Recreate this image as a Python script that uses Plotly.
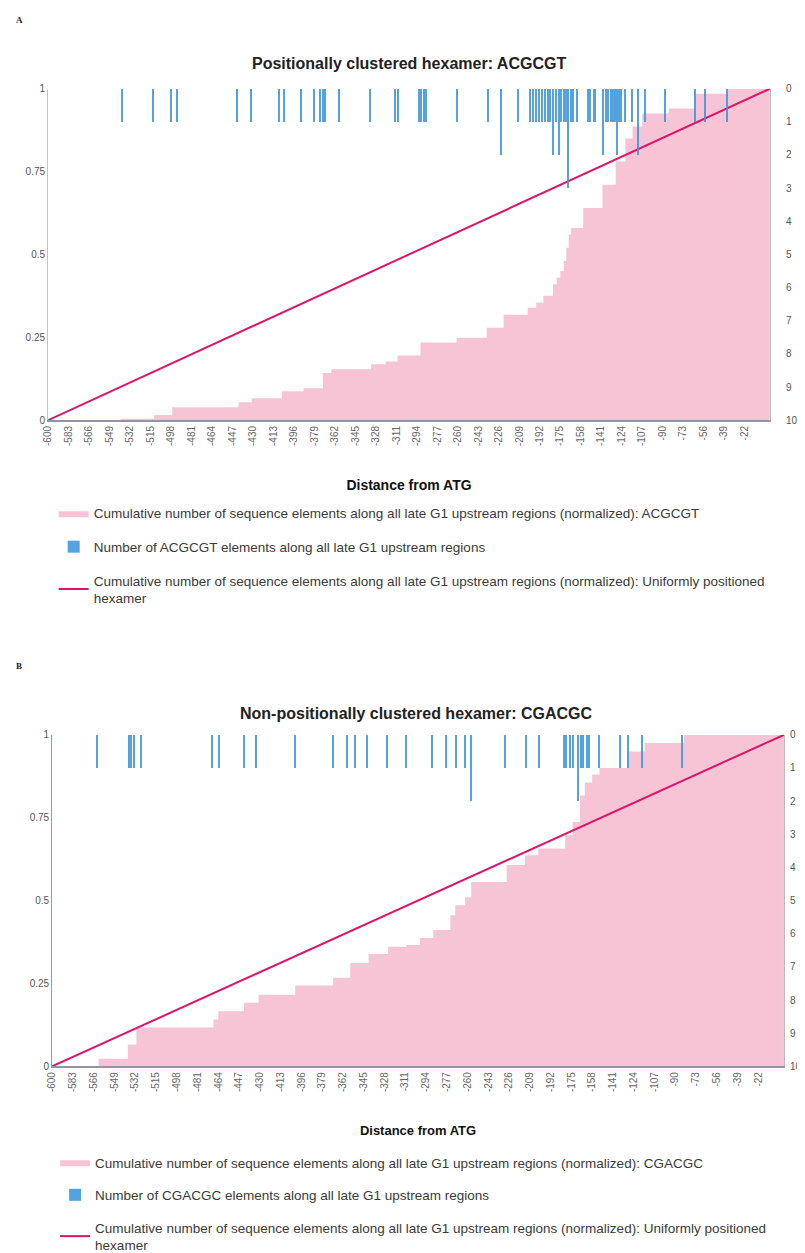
import plotly.graph_objects as go

W, H = 805, 1253

# ---------------- data ----------------
tick_vals = [-600 + 17 * k for k in range(35)]
tick_text = [str(v) for v in tick_vals]

# Panel A: cumulative (normalized) ACGCGT, step breakpoints
a_cum_pos = [-600, -540, -512, -497, -442, -431, -406, -388, -372, -365, -332, -320,
             -310, -291, -261, -236, -222, -202, -195, -189, -181, -178, -175, -172,
             -170, -168, -166, -156, -140, -129, -121, -115, -107, -85, -63, -36, -1]
a_cum_val = [0.0, 0.004, 0.016, 0.039, 0.054, 0.066, 0.087, 0.096, 0.142, 0.154, 0.169, 0.177,
             0.195, 0.234, 0.249, 0.279, 0.318, 0.339, 0.355, 0.375, 0.41, 0.43, 0.45, 0.48,
             0.52, 0.56, 0.58, 0.64, 0.71, 0.78, 0.85, 0.886, 0.925, 0.94, 0.985, 1.0, 1.0]

# Panel A: number of ACGCGT elements at each position
a_bar_pos = [-538, -513, -498, -493, -443, -431, -408, -404, -390, -379, -374, -372, -370,
             -358, -333, -312, -309, -292, -290, -288, -286, -260, -235, -224, -210, -200,
             -197, -195, -192, -190, -187, -185, -183, -181, -178, -176, -174, -172, -170,
             -168, -166, -164, -161, -152, -150, -147, -146, -139, -137, -135, -133, -131,
             -129, -128, -126, -124, -121, -115, -110, -104, -88, -63, -55, -36]
a_bar_cnt = [1, 1, 1, 1, 1, 1, 1, 1, 1, 1, 1, 1, 1,
             1, 1, 1, 1, 1, 1, 1, 1, 1, 1, 2, 1, 1,
             1, 1, 1, 1, 1, 1, 1, 2, 1, 2, 1, 1, 1,
             3, 1, 1, 1, 1, 1, 1, 1, 2, 1, 1, 1, 1,
             1, 2, 1, 1, 1, 1, 2, 1, 1, 1, 1, 1]

# Panel B: cumulative (normalized) CGACGC, step breakpoints
b_cum_pos = [-600, -562, -538, -531, -468, -464, -443, -431, -401, -370, -356, -341, -325,
             -310, -299, -288, -274, -270, -262, -257, -228, -213, -202, -180, -174, -168,
             -164, -158, -152, -128, -115, -83, -1]
b_cum_val = [0.0, 0.023, 0.066, 0.117, 0.141, 0.166, 0.192, 0.216, 0.244, 0.267, 0.312, 0.339, 0.361,
             0.366, 0.387, 0.411, 0.456, 0.486, 0.51, 0.556, 0.607, 0.637, 0.657, 0.697, 0.737, 0.817,
             0.856, 0.88, 0.9, 0.95, 0.975, 1.0, 1.0]

# Panel B: number of CGACGC elements at each position
b_bar_pos = [-563, -537, -535, -533, -527, -469, -463, -443, -433, -401, -370, -358, -352,
             -342, -326, -310, -289, -277, -269, -262, -257, -229, -212, -201, -181, -179,
             -176, -173, -169, -167, -165, -162, -160, -152, -135, -128, -117, -84]
b_bar_cnt = [1, 1, 1, 1, 1, 1, 1, 1, 1, 1, 1, 1, 1,
             1, 1, 1, 1, 1, 1, 1, 2, 1, 1, 1, 1, 1,
             1, 1, 2, 1, 1, 1, 1, 1, 1, 1, 1, 1]

# Uniformly positioned hexamer (cumulative, normalized)
uni_pos = [-600, -1]
uni_val = [0.0, 1.0]

# ---------------- styling ----------------
PINK = "#f7c4d5"
BLUE = "#3892dc"
RED = "#dc156a"
FONT = "Liberation Sans, Arial, sans-serif"
OFF, SC = 14, 0.99  # compensation for page offset / scaling (px)

def px2x(p):
    return ((p - OFF) / SC) / W

def py2y(p):
    return 1 - ((p - OFF) / SC) / H

panels = [
    dict(cum_pos=a_cum_pos, cum_val=a_cum_val, bar_pos=a_bar_pos, bar_cnt=a_bar_cnt,
         hexa="ACGCGT", xs="x", ys="y", ys2="y2", legend="legend"),
    dict(cum_pos=b_cum_pos, cum_val=b_cum_val, bar_pos=b_bar_pos, bar_cnt=b_bar_cnt,
         hexa="CGACGC", xs="x2", ys="y3", ys2="y4", legend="legend2"),
]

fig = go.Figure()
for i, p in enumerate(panels):
    fig.add_trace(go.Scatter(
        x=p["cum_pos"], y=p["cum_val"], mode="lines", line=dict(shape="hv", width=0, color=PINK),
        fill="tozeroy", fillcolor=PINK, xaxis=p["xs"], yaxis=p["ys"],
        name="Cumulative number of sequence elements along all late G1 upstream regions (normalized): " + p["hexa"],
        legend=p["legend"], legendgroup=f"c{i}", hoverinfo="skip"))
    fig.add_trace(go.Bar(
        x=p["bar_pos"], y=p["bar_cnt"], width=1.25, opacity=0.85,
        marker=dict(color=BLUE, line=dict(width=0)),
        xaxis=p["xs"], yaxis=p["ys2"],
        name="Number of " + p["hexa"] + " elements along all late G1 upstream regions",
        legend=p["legend"], legendgroup=f"b{i}"))
    fig.add_trace(go.Scatter(
        x=uni_pos, y=uni_val, mode="lines", line=dict(color=RED, width=2),
        xaxis=p["xs"], yaxis=p["ys"],
        name="Cumulative number of sequence elements along all late G1 upstream regions (normalized): Uniformly positioned<br>hexamer",
        legend=p["legend"], legendgroup=f"u{i}"))

def xaxis_cfg(title_size, standoff):
    return dict(range=[-600, -1], tickmode="array", tickvals=tick_vals, ticktext=tick_text,
                tickangle=-90, tickfont=dict(size=10, color="#666", family=FONT),
                showline=True, linecolor="#9a90aa", linewidth=1.5, showgrid=False, zeroline=False,
                ticks="", title=dict(text="<b>Distance from ATG</b>",
                                     font=dict(size=title_size, color="#111", family=FONT),
                                     standoff=standoff))

ycommon = dict(range=[0, 1], tickmode="array", tickvals=[0, 0.25, 0.5, 0.75, 1],
               ticktext=["0", "0.25", "0.5", "0.75", "1"], tickfont=dict(size=10, color="#555", family=FONT),
               showline=True, showgrid=False, zeroline=False, ticks="")
y2common = dict(range=[10, 0], tickmode="linear", tick0=0, dtick=1, side="right",
                tickfont=dict(size=10, color="#555", family=FONT), showline=True, linecolor="#bbb",
                showgrid=False, zeroline=False, ticks="")

fig.update_layout(
    width=W, height=H, margin=dict(l=0, r=0, t=0, b=0),
    paper_bgcolor="white", plot_bgcolor="white", bargap=0, barmode="overlay",
    font=dict(family=FONT, color="#333"),
    xaxis=dict(xaxis_cfg(14, 35), domain=[px2x(48), px2x(768)], anchor="y"),
    yaxis=dict(ycommon, linecolor="#d2b8da", domain=[py2y(423), py2y(90)], anchor="x"),
    yaxis2=dict(y2common, overlaying="y", anchor="x", ticklabelstandoff=13),
    xaxis2=dict(xaxis_cfg(13, 35), domain=[px2x(52), px2x(782)], anchor="y3"),
    yaxis3=dict(ycommon, linecolor="#9a9a9a", domain=[py2y(1072), py2y(739)], anchor="x2"),
    yaxis4=dict(y2common, overlaying="y3", anchor="x2", ticklabelstandoff=3),
    legend=dict(x=px2x(53.6), y=py2y(501), xanchor="left", yanchor="top", tracegroupgap=13,
                font=dict(size=13.5, color="#3a3a3a", family=FONT), bgcolor="rgba(0,0,0,0)"),
    legend2=dict(x=px2x(55), y=py2y(1153), xanchor="left", yanchor="top", tracegroupgap=12,
                 font=dict(size=13.5, color="#3a3a3a", family=FONT), bgcolor="rgba(0,0,0,0)"),
    showlegend=True,
)

annots = [
    dict(text="<b>A</b>", x=0.0, y=1.0, xanchor="left", yanchor="top",
         font=dict(size=9, family="Liberation Serif, serif", color="#222")),
    dict(text="<b>B</b>", x=0.0, y=py2y(670), xanchor="left", yanchor="middle",
         font=dict(size=9, family="Liberation Serif, serif", color="#222")),
    dict(text="<b>Positionally clustered hexamer: ACGCGT</b>", x=px2x(408), y=py2y(65),
         xanchor="center", yanchor="middle", font=dict(size=16, family=FONT, color="#222")),
    dict(text="<b>Non-positionally clustered hexamer: CGACGC</b>", x=px2x(415), y=py2y(718),
         xanchor="center", yanchor="middle", font=dict(size=16, family=FONT, color="#222")),
]
for a in annots:
    fig.add_annotation(xref="paper", yref="paper", showarrow=False, **a)

fig.write_html("out.html")
